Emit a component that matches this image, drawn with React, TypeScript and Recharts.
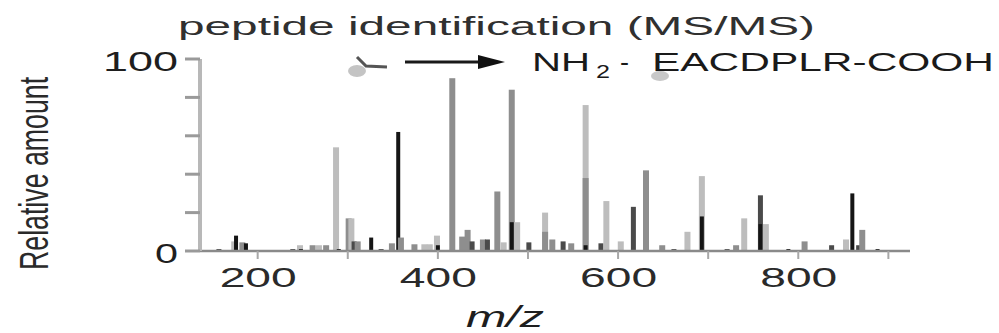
import React from "react";
import { ComposedChart, Bar, XAxis, YAxis } from "recharts";

// peaks: m/z, relative amount, shade
const mzValues = [
  157, 174, 176, 183, 187, 239, 247, 248, 261, 268, 276, 287, 290, 301, 304, 307, 311, 326, 337, 349,
  356, 359, 374, 385, 391, 399, 400, 416, 427, 433, 438, 450, 455, 466, 473, 482, 482, 488, 501, 519,
  519, 527, 539, 548, 564, 564, 564, 581, 587, 603, 617, 631, 649, 662, 677, 693, 693, 721, 731, 740,
  758, 758, 764, 789, 807, 837, 853, 860, 867, 871, 888,
];
const intensities = [
  1, 5, 8, 4.5, 4, 1, 3, 1, 3, 3, 3, 54, 1, 17, 17, 5, 5, 7, 1, 4,
  62, 7, 3.5, 3.5, 3.5, 8, 3, 90, 7.5, 11, 5, 6, 6, 31, 4.5, 84, 15, 15, 4.5, 20,
  10, 6, 5, 4, 76, 38, 3, 4, 26, 5, 23, 42, 3, 1, 10, 39, 18, 1, 3, 17,
  29, 14, 14, 1, 5, 3, 6, 30, 3, 11, 1,
];
const tones = [
  "dark", "light", "black", "mid", "black", "dark", "light", "black", "mid", "light", "mid", "light", "black", "mid", "light", "dark", "mid", "black", "dark", "mid",
  "black", "mid", "mid", "light", "light", "light", "black", "mid", "mid", "mid", "dark", "mid", "dark", "mid", "light", "mid", "black", "light", "dark", "light",
  "mid", "mid", "dark", "mid", "light", "mid", "black", "dark", "light", "light", "dark", "mid", "mid", "dark", "light", "light", "black", "dark", "mid", "light",
  "dark", "black", "light", "black", "mid", "dark", "light", "black", "dark", "mid", "black",
];

const xTicks = [200, 300, 400, 500, 600, 700, 800, 900];
const xLabels = [200, 400, 600, 800];
const yTicks = [0, 20, 40, 60, 80, 100];
const yLabels = [0, 100];

const TONE_COLORS: Record<string, string> = {
  light: "#bdbdbd",
  mid: "#8e8e8e",
  dark: "#4a4a4a",
  black: "#151515",
};
const TONE_WIDTHS: Record<string, number> = { light: 6, mid: 6, dark: 5, black: 4 };

const FONT = "'Liberation Sans', Arial, sans-serif";

const data = mzValues.map((mz, i) => ({ mz, intensity: intensities[i], tone: tones[i] }));

// recharts squeezes bars on a number axis to ~1px, so widen them around the scaled position
const PeakShape = (props: any) => {
  const { x, y, width, height, payload } = props;
  if (height == null || height <= 0) return <g />;
  const w = TONE_WIDTHS[payload.tone];
  const cx = x + width / 2;
  return <rect x={cx - w / 2} y={y} width={w} height={height} fill={TONE_COLORS[payload.tone]} />;
};

const XTick = (props: any) => {
  const { x, y, payload } = props;
  if (!xLabels.includes(payload.value)) return <g />;
  return (
    <text
      x={x - 38}
      y={y + 26}
      fontFamily={FONT}
      fontSize={28}
      fill="#2a2a2a"
      textLength={77}
      lengthAdjust="spacingAndGlyphs"
    >
      {payload.value}
    </text>
  );
};

const YTick = (props: any) => {
  const { x, y, payload } = props;
  if (!yLabels.includes(payload.value)) return <g />;
  const w = payload.value === 100 ? 75 : 23;
  return (
    <text
      x={x - w}
      y={y + 12}
      fontFamily={FONT}
      fontSize={28}
      fill="#1e1e1e"
      textLength={w}
      lengthAdjust="spacingAndGlyphs"
    >
      {payload.value}
    </text>
  );
};

export default function App() {
  return (
    <div style={{ position: "absolute", left: 0, top: 0, width: 999, height: 333, background: "#fff" }}>
      <ComposedChart
        width={999}
        height={333}
        data={data}
        margin={{ top: 59, right: 89, bottom: 0, left: 0 }}
      >
        <XAxis
          dataKey="mz"
          type="number"
          domain={[136, 924]}
          ticks={xTicks}
          tick={<XTick />}
          tickSize={8}
          height={82}
          axisLine={{ stroke: "#8a8a8a", strokeWidth: 2.5 }}
          tickLine={{ stroke: "#a8a8a8", strokeWidth: 2 }}
          allowDataOverflow
        />
        <YAxis
          type="number"
          domain={[0, 100]}
          ticks={yTicks}
          tick={<YTick />}
          tickSize={15}
          tickMargin={7}
          width={200}
          axisLine={{ stroke: "#b8b8b8", strokeWidth: 4 }}
          tickLine={{ stroke: "#9a9a9a", strokeWidth: 3 }}
        />
        <Bar dataKey="intensity" shape={<PeakShape />} isAnimationActive={false} />

        {/* title */}
        <text
          x={178}
          y={35}
          fontFamily={FONT}
          fontSize={26}
          fill="#303030"
          textLength={637}
          lengthAdjust="spacingAndGlyphs"
        >
          peptide identification (MS/MS)
        </text>

        {/* cleavage mark + arrow */}
        <ellipse cx={357} cy={71} rx={9} ry={6} fill="#c4c4c4" />
        <path d="M357 57 L366 66 L387 67" stroke="#555" strokeWidth={3} fill="none" />
        <line x1={405} y1={62} x2={482} y2={62} stroke="#1a1a1a" strokeWidth={3} />
        <polygon points="478,55 505,62 478,69" fill="#111" />
        <ellipse cx={660} cy={76} rx={9} ry={5} fill="#c8c8c8" />

        {/* sequence */}
        <text x={532} y={71} fontFamily={FONT} fontSize={26} fill="#1a1a1a" textLength={58} lengthAdjust="spacingAndGlyphs">
          NH
        </text>
        <text x={596} y={78} fontFamily={FONT} fontSize={18} fill="#1a1a1a" textLength={14} lengthAdjust="spacingAndGlyphs">
          2
        </text>
        <text x={620} y={71} fontFamily={FONT} fontSize={26} fill="#1a1a1a" textLength={9} lengthAdjust="spacingAndGlyphs">
          -
        </text>
        <text x={652} y={71} fontFamily={FONT} fontSize={26} fill="#1a1a1a" textLength={342} lengthAdjust="spacingAndGlyphs">
          EACDPLR-COOH
        </text>

        {/* axis titles: squeezed/stretched like the scanned figure */}
        <text
          transform="translate(48,270) rotate(-90) scale(0.668,1)"
          fontFamily={FONT}
          fontSize={40}
          fill="#2a2a2a"
          textLength={289}
          lengthAdjust="spacingAndGlyphs"
        >
          Relative amount
        </text>
        <text
          transform="translate(466,327) scale(1.56,1)"
          fontFamily={FONT}
          fontSize={30}
          fontStyle="italic"
          fill="#1e1e1e"
          textLength={50}
          lengthAdjust="spacingAndGlyphs"
        >
          m/z
        </text>
      </ComposedChart>
    </div>
  );
}
